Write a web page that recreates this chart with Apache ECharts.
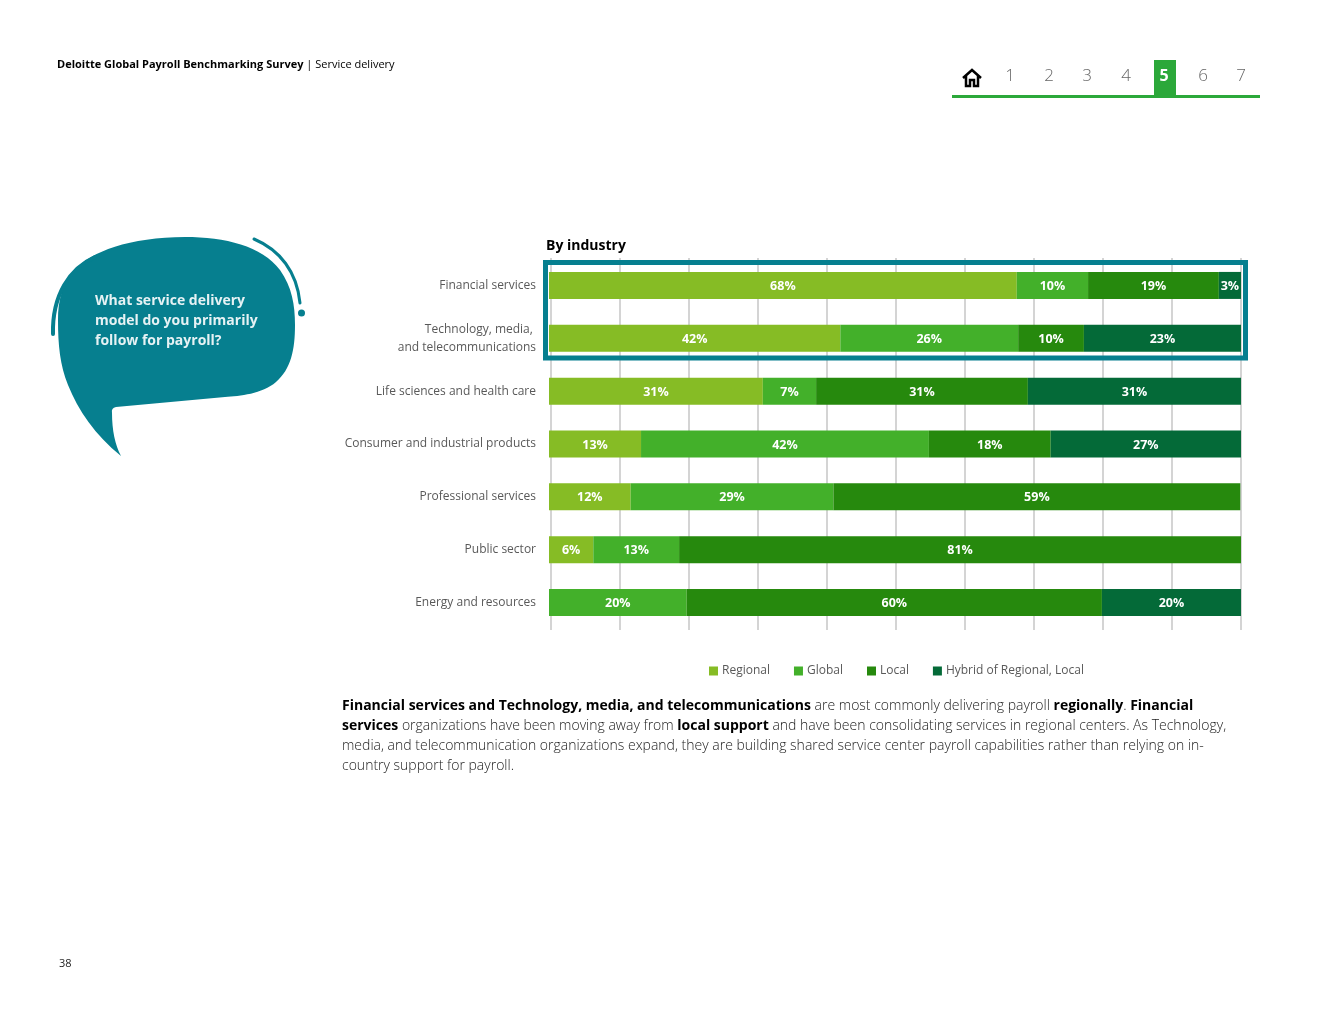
<!DOCTYPE html>
<html>
<head>
<meta charset="utf-8">
<title>By industry</title>
<script src="https://cdn.jsdelivr.net/npm/echarts@6/dist/echarts.min.js"></script>
<style>
  html, body { margin: 0; padding: 0; background: #fff; }
  #chart { width: 1320px; height: 1020px; }
</style>
</head>
<body>
<div id="chart"></div>
<script>
// shares, printed labels kept apart (the source rounds them)
const categories = ['Financial services', 'Technology, media, \nand telecommunications', 'Life sciences and health care', 'Consumer and industrial products', 'Professional services', 'Public sector', 'Energy and resources'];
const seriesNames = ['Regional', 'Global', 'Local', 'Hybrid of Regional, Local'];
const colors = ['#86BC25', '#43B02A', '#26890D', '#046A38'];

const regional = [67.6, 42.1, 30.9, 13.3, 11.8, 6.4, 0];
const global = [10.3, 25.7, 7.7, 41.6, 29.3, 12.4, 19.9];
const local = [18.9, 9.5, 30.6, 17.6, 58.8, 81.2, 60.0];
const hybrid = [3.2, 22.7, 30.8, 27.5, 0, 0, 20.1];

const regionalLabels = ['68%', '42%', '31%', '13%', '12%', '6%', ''];
const globalLabels = ['10%', '26%', '7%', '42%', '29%', '13%', '20%'];
const localLabels = ['19%', '10%', '31%', '18%', '59%', '81%', '60%'];
const hybridLabels = ['3%', '23%', '31%', '27%', '', '', '20%'];

const navNumbers = ['1', '2', '3', '4', '5', '6', '7'];
const navX = [1010, 1049, 1087, 1126, 1164, 1203, 1241];
const question = ['What service delivery', 'model do you primarily', 'follow for payroll?'];
const paragraph = [
  '{b|Financial services and Technology, media, and telecommunications}{n| are most commonly delivering payroll }{b|regionally}{n|. }{b|Financial}',
  '{b|services}{n| organizations have been moving away from }{b|local support}{n| and have been consolidating services in regional centers. As Technology,}',
  '{n|media, and telecommunication organizations expand, they are building shared service center payroll capabilities rather than relying on in-}',
  '{n|country support for payroll.}'
];

const FONT = '"Open Sans", sans-serif';
const TEAL = '#067F8F';
const NAV_GREEN = '#2BA83A';

// the graphic component has no plain 'path' type, so the page furniture is registered as shapes
echarts.graphic.registerShape('bubble', echarts.graphic.extendPath('M185 237 C225 237 262 246 280 270 C292 287 295 305 295 325 C295 350 291 369 276 382 C262 394 240 396 225 397 L116 407 Q111 408 112 413 C112 430 115 445 121 456 C95 435 78 410 68 385 C60 365 58 345 58 320 C58 300 62 285 75 270 C90 252 130 237 185 237 Z', {}));
echarts.graphic.registerShape('arcLeft', echarts.graphic.extendPath('M95 257 C70 268 52 295 53 334', {}));
echarts.graphic.registerShape('arcRight', echarts.graphic.extendPath('M254 239 C280 250 297 272 300 303', {}));
echarts.graphic.registerShape('home', echarts.graphic.extendPath('M963 78 L972 70 L981 78 M966 76 L966 86 L970 86 L970 80 L974 80 L974 86 L978 86 L978 76', {}));

function barSeries(i, data, labels) {
  return {
    name: seriesNames[i],
    type: 'bar',
    stack: 'total',
    xAxisIndex: 1,
    yAxisIndex: 1,
    barWidth: 27,
    itemStyle: { color: colors[i] },
    label: {
      show: true,
      position: 'inside',
      color: '#fff',
      fontFamily: FONT,
      fontWeight: 700,
      fontSize: 12.5,
      offset: [0, 1],
      formatter: p => labels[p.dataIndex]
    },
    data: data
  };
}

function text(x, y, str, style) {
  return {
    type: 'text', x: x, y: y, z: 20,
    style: Object.assign({ text: str, fontFamily: FONT, verticalAlign: 'middle' }, style)
  };
}

const graphics = [
  // highlight box
  { type: 'rect', z: 15, shape: { x: 545.5, y: 262.5, width: 700, height: 95.5 }, style: { fill: 'none', stroke: TEAL, lineWidth: 5 } },
  // speech bubble
  { type: 'bubble', z: 10, style: { fill: TEAL } },
  { type: 'arcLeft', z: 10, style: { fill: 'none', stroke: TEAL, lineWidth: 4, lineCap: 'round' } },
  { type: 'arcRight', z: 10, style: { fill: 'none', stroke: TEAL, lineWidth: 3, lineCap: 'round' } },
  { type: 'circle', z: 10, shape: { cx: 301.5, cy: 313, r: 3.5 }, style: { fill: TEAL } },
  // nav
  { type: 'rect', z: 10, shape: { x: 952, y: 95, width: 308, height: 3 }, style: { fill: NAV_GREEN } },
  { type: 'rect', z: 10, shape: { x: 1154, y: 60, width: 22, height: 36 }, style: { fill: NAV_GREEN } },
  { type: 'home', z: 10, style: { fill: 'none', stroke: '#000', lineWidth: 2.5 } },
  text(546, 246, 'By industry', { fontSize: 14, fontWeight: 700, fill: '#000' }),
  text(57, 65, '{b|Deloitte Global Payroll Benchmarking Survey}{n| | Service delivery}', {
    rich: {
      b: { fontFamily: FONT, fontSize: 11, fontWeight: 700, fill: '#000' },
      n: { fontFamily: FONT, fontSize: 11, fill: '#000' }
    }
  }),
  text(59, 964, '38', { fontSize: 11, fill: '#222' })
];

navNumbers.forEach((n, i) => {
  const active = n === '5';
  graphics.push(text(navX[i], 76, n, {
    align: 'center',
    fontSize: active ? 16 : 17,
    fontWeight: active ? 700 : 300,
    fill: active ? '#fff' : '#666'
  }));
});

question.forEach((line, i) => {
  graphics.push(text(95, 301 + i * 20, line, { fontSize: 14, fontWeight: 700, fill: '#E6F2F4' }));
});

paragraph.forEach((line, i) => {
  graphics.push(text(342, 706 + i * 20, line, {
    rich: {
      b: { fontFamily: FONT, fontSize: 14, fontWeight: 700, fill: '#000' },
      n: { fontFamily: FONT, fontSize: 14, fontWeight: 300, fill: '#222' }
    }
  }));
});

const chart = echarts.init(document.getElementById('chart'));
chart.setOption({
  animation: false,
  backgroundColor: '#fff',
  textStyle: { fontFamily: FONT },
  // first grid only carries the vertical lines, they start 2px right of the bars
  grid: [
    { left: 551, top: 258, width: 690, height: 372 },
    { left: 549, top: 259, width: 692, height: 370 }
  ],
  xAxis: [
    {
      gridIndex: 0, type: 'value', min: 0, max: 100, interval: 10,
      axisLabel: { show: false }, axisLine: { show: false }, axisTick: { show: false },
      splitLine: { show: true, lineStyle: { color: '#D4D4D4', width: 2 } }
    },
    {
      gridIndex: 1, type: 'value', min: 0, max: 100,
      axisLabel: { show: false }, axisLine: { show: false }, axisTick: { show: false },
      splitLine: { show: false }
    }
  ],
  yAxis: [
    { gridIndex: 0, type: 'category', data: categories, show: false },
    {
      gridIndex: 1, type: 'category', data: categories, inverse: true,
      axisLine: { show: false }, axisTick: { show: false }, splitLine: { show: false },
      axisLabel: { color: '#595959', fontFamily: FONT, fontSize: 12, margin: 13, lineHeight: 18, align: 'right' }
    }
  ],
  legend: {
    left: 704,
    top: 660,
    itemWidth: 9,
    itemHeight: 9,
    itemGap: 24,
    icon: 'rect',
    data: seriesNames,
    textStyle: { color: '#595959', fontFamily: FONT, fontSize: 12, padding: [0, 0, 0, -1] }
  },
  series: [
    barSeries(0, regional, regionalLabels),
    barSeries(1, global, globalLabels),
    barSeries(2, local, localLabels),
    barSeries(3, hybrid, hybridLabels)
  ],
  graphic: graphics
});
</script>
</body>
</html>
